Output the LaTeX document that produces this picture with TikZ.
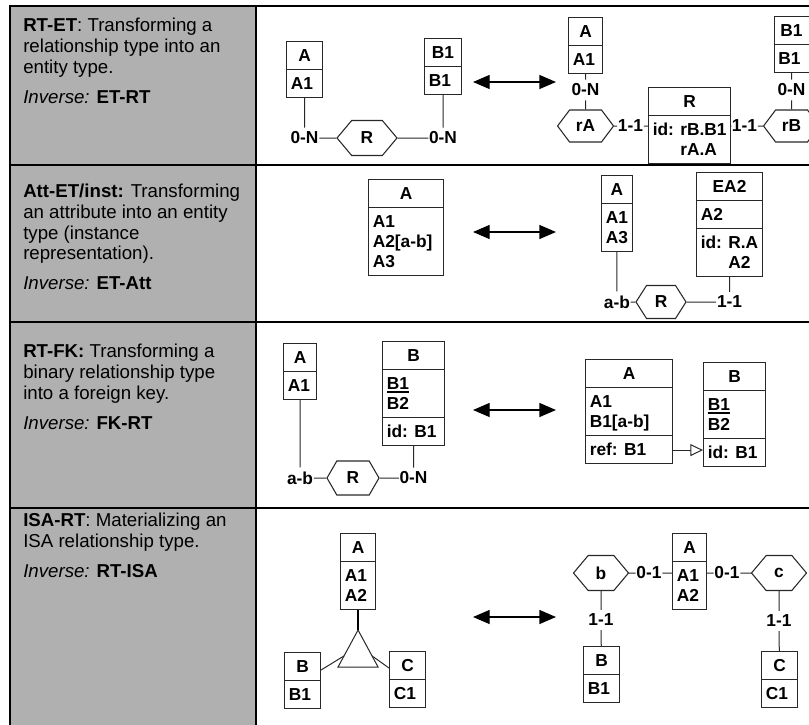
\documentclass[tikz,border=0pt]{standalone}
\usepackage{fontspec}
\setmainfont{Liberation Sans}
\usetikzlibrary{shapes.multipart,shapes.symbols,arrows.meta,calc,positioning}

\definecolor{cellgray}{RGB}{176,176,176}
\definecolor{inkgray}{RGB}{40,40,40}
\newcommand\estrut{\rule[-3pt]{0pt}{15pt}}
\newcommand\idul[1]{\setbox0\hbox{#1}\rlap{\rule[-2.4pt]{\wd0}{1.2pt}}\box0}

\tikzset{
  ent/.style={draw=inkgray, line width=0.8pt, rectangle split, rectangle split parts=#1,
    rectangle split part align={center,left,left}, align=left, anchor=north west,
    font=\fontsize{13}{15}\selectfont\bfseries, inner xsep=3.2pt, inner ysep=2.6pt},
  rel/.style 2 args={draw=inkgray, line width=0.8pt, signal, signal to=east and west,
    signal pointer angle=100, minimum width=#1*0.75pt, minimum height=#2*0.75pt,
    inner sep=0pt, font=\fontsize{13}{15}\selectfont\bfseries},
  card/.style={font=\fontsize{13}{15}\selectfont\bfseries, inner xsep=0.4pt, inner ysep=3pt},
  link/.style={draw=inkgray, line width=0.75pt},
  swap/.style={line width=1pt, {Triangle[length=12.5pt,width=10.5pt]}-{Triangle[length=12.5pt,width=10.5pt]}},
  ruletxt/.style={anchor=north west, align=left, inner sep=0pt, font=\fontsize{14}{15.5}\selectfont}
}

\begin{document}
\begin{tikzpicture}[x=0.75pt, y=-0.75pt]
\useasboundingbox (0,0) rectangle (809,724);

% table frame
\fill[cellgray] (10,6) rectangle (256,740);
\draw[line width=1.6pt] (10,6) -- (830,6);
\foreach \ry in {165,322,508}
  \draw[line width=1.3pt] (10,\ry) -- (830,\ry);
\draw[line width=1.6pt] (10,5) -- (10,740);
\draw[line width=1.6pt] (256,6) -- (256,740);

% rule descriptions
\node[ruletxt] (txt1) at (23,18) {\textbf{RT-ET}: Transforming a\\relationship type into an\\entity type.\\[7pt]\textit{Inverse:} \textbf{ET-RT}};
\node[ruletxt] (txt2) at (23,184) {\textbf{Att-ET/inst:} Transforming\\an attribute into an entity\\type (instance\\representation).\\[7pt]\textit{Inverse:} \textbf{ET-Att}};
\node[ruletxt] (txt3) at (23,344) {\textbf{RT-FK:} Transforming a\\binary relationship type\\into a foreign key.\\[7pt]\textit{Inverse:} \textbf{FK-RT}};
\node[ruletxt] (txt4) at (23,513) {\textbf{ISA-RT}: Materializing an\\ISA relationship type.\\[7pt]\textit{Inverse:} \textbf{RT-ISA}};

% two-way arrows
\foreach \ry [count=\i] in {82,232,410,617}{
  \coordinate (swl\i) at (473,\ry);
  \coordinate (swr\i) at (556,\ry);
  \draw[swap] (swl\i) -- (swr\i);
}

% RT-ET, left
\node[ent=2, minimum width=36*0.75pt] (l1A) at (286,41) {\estrut A\nodepart{two}\estrut A1};
\node[ent=2, minimum width=37*0.75pt] (l1B) at (424,38) {\estrut B1\nodepart{two}\estrut B1};
\node[rel={60}{35}] (l1R) at (367,138) {R};
\node[card] (l1ca) at (l1A.south |- 0,138) {0-N};
\node[card] (l1cb) at (l1B.south |- 0,138) {0-N};
\draw[link] (l1A) -- (l1ca) -- (l1R) -- (l1cb) -- (l1B);

% RT-ET, right
\node[ent=2, minimum width=34*0.75pt] (r1A) at (568,17) {\estrut A\nodepart{two}\estrut A1};
\node[ent=2, minimum width=35*0.75pt] (r1B) at (773.5,16) {\estrut B1\nodepart{two}\estrut B1};
\node[ent=2, minimum width=78*0.75pt] (r1R) at (648,87) {\estrut R\nodepart{two}\estrut id: rB.B1\\\hphantom{id: }rA.A\estrut};
\node[card] (r1ca) at (r1A.south |- 0,90) {0-N};
\node[card] (r1cb) at (r1B.south |- 0,90) {0-N};
\node[rel={56}{32}, signal pointer angle=106] (r1rA) at (r1A.south |- 0,126) {rA};
\node[rel={56}{32}, signal pointer angle=106] (r1rB) at (r1B.south |- 0,126) {rB};
\node[card] (r1c1) at (630.5,126) {1-1};
\node[card] (r1c2) at (744.5,126) {1-1};
\draw[link] (r1A) -- (r1ca) -- (r1rA) -- (r1c1) -- (r1c1 -| r1R.west);
\draw[link] (r1B) -- (r1cb) -- (r1rB) -- (r1c2) -- (r1c2 -| r1R.east);

% Att-ET/inst, left
\node[ent=2, minimum width=75*0.75pt] (l2A) at (368,179) {\estrut A\nodepart{two}\estrut A1\\A2[a-b]\\A3\estrut};

% Att-ET/inst, right
\node[ent=2, minimum width=30*0.75pt] (r2A) at (601,175) {\estrut A\nodepart{two}\estrut A1\\A3\estrut};
\node[ent=3, minimum width=65*0.75pt] (r2E) at (696,172) {\estrut EA2\nodepart{two}\estrut A2\nodepart{three}\estrut id: R.A\\\hphantom{id: }A2\estrut};
\node[rel={50}{33}, signal pointer angle=115] (r2R) at (661,302) {R};
\node[card] (r2ca) at (r2A.south |- 0,302) {a-b};
\node[card] (r2cb) at (r2E.south |- 0,302) {1-1};
\draw[link] (r2A) -- (r2ca) -- (r2R) -- (r2cb) -- (r2E);

% RT-FK, left
\node[ent=2, minimum width=33*0.75pt] (l3A) at (283,343) {\estrut A\nodepart{two}\estrut A1};
\node[ent=3, minimum width=62*0.75pt] (l3B) at (382,341) {\estrut B\nodepart{two}\estrut\idul{B1}\\B2\estrut\nodepart{three}\estrut id: B1};
\node[rel={52}{34}, signal pointer angle=120] (l3R) at (353,478) {R};
\node[card] (l3ca) at (l3A.south |- 0,478) {a-b};
\node[card] (l3cb) at (l3B.south |- 0,478) {0-N};
\draw[link] (l3A) -- (l3ca) -- (l3R) -- (l3cb) -- (l3B);

% RT-FK, right
\node[ent=3, minimum width=87*0.75pt] (r3A) at (585,359) {\estrut A\nodepart{two}\estrut A1\\B1[a-b]\estrut\nodepart{three}\estrut ref: B1};
\node[ent=3, minimum width=62*0.75pt] (r3B) at (703,362) {\estrut B\nodepart{two}\estrut\idul{B1}\\B2\estrut\nodepart{three}\estrut id: B1};
\coordinate (r3ref) at ($(r3A.south east)+(0,-14)$);
\draw[link, -{Triangle[open, length=9.5pt, width=9pt]}] (r3ref) -- (r3ref -| r3B.west);

% ISA-RT, left
\node[ent=2, minimum width=35*0.75pt] (l4A) at (340,533) {\estrut A\nodepart{two}\estrut A1\\A2\estrut};
\node[ent=2, minimum width=36*0.75pt] (l4B) at (284,652) {\estrut B\nodepart{two}\estrut B1};
\node[ent=2, minimum width=36*0.75pt] (l4C) at (389,651) {\estrut C\nodepart{two}\estrut C1};
\coordinate (l4top) at (l4A.south |- 0,630);
\coordinate (l4bl) at ($(l4top)+(-20,37)$);
\coordinate (l4br) at ($(l4top)+(20,37)$);
\draw[link] (l4top) -- (l4bl) -- (l4br) -- cycle;
\draw[line width=2pt] (l4A) -- (l4top);
\draw[link] ($(l4B.north east)+(0,18)$) -- ($(l4top)!0.7!(l4bl)$);
\draw[link] ($(l4C.north west)+(0,17)$) -- ($(l4top)!0.7!(l4br)$);

% ISA-RT, right
\node[ent=2, minimum width=34*0.75pt] (r4A) at (672,533) {\estrut A\nodepart{two}\estrut A1\\A2\estrut};
\node[ent=2, minimum width=36*0.75pt] (r4B) at (583,646) {\estrut B\nodepart{two}\estrut B1};
\node[ent=2, minimum width=36*0.75pt] (r4C) at (761,651) {\estrut C\nodepart{two}\estrut C1};
\node[rel={55}{35}] (r4b) at (601,573) {b};
\node[rel={55}{35}] (r4c) at (779,573) {c};
\node[card] (r4cb) at (649,573) {0-1};
\node[card] (r4cc) at (727,573) {0-1};
\node[card] (r4bb) at (r4b.south |- 0,620) {1-1};
\node[card] (r4cd) at (r4c.south |- 0,621) {1-1};
\draw[link] (r4b) -- (r4bb) -- (r4B);
\draw[link] (r4c) -- (r4cd) -- (r4C);
\draw[link] (r4b) -- (r4cb) -- (r4cb -| r4A.west);
\draw[link] (r4cc -| r4A.east) -- (r4cc) -- (r4c);
\end{tikzpicture}
\end{document}
